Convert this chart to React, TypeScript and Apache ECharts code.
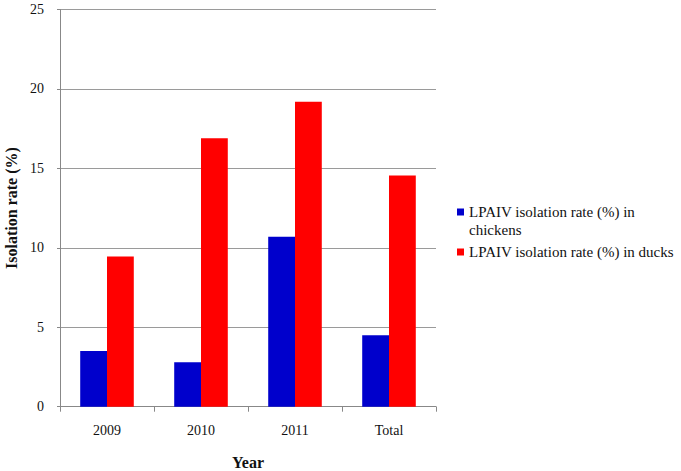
import React, { useEffect, useRef } from "react";
import * as echarts from "echarts";

const categories = ["2009", "2010", "2011", "Total"];
const chickens = [3.5, 2.8, 10.7, 4.5];
const ducks = [9.45, 16.9, 19.2, 14.55];
const yTicks = { min: 0, max: 25, interval: 5 };
const chickenName = "LPAIV isolation rate (%) in chickens";
const duckName = "LPAIV isolation rate (%) in ducks";

const FONT = "Liberation Serif";

export default function App() {
  const ref = useRef<HTMLDivElement>(null);
  useEffect(() => {
    if (!ref.current) return;
    const chart = echarts.init(ref.current, null, { renderer: "svg" });
    chart.setOption({
      animation: false,
      backgroundColor: "#ffffff",
      textStyle: { fontFamily: FONT },
      grid: {
        left: 60,
        right: 245,
        top: 9.5,
        bottom: 64.3,
        containLabel: false,
        outerBoundsMode: "none",
      },
      legend: {
        orient: "vertical",
        left: 457,
        top: 185,
        padding: 0,
        itemWidth: 7,
        itemHeight: 7,
        itemGap: 4,
        icon: "rect",
        textStyle: { fontFamily: FONT, fontSize: 15, color: "#111", lineHeight: 18 },
        formatter: (n: string) => (n === chickenName ? " \nLPAIV isolation rate (%) in\nchickens" : n),
        data: [{ name: chickenName }, { name: duckName }],
      },
      xAxis: {
        type: "category",
        data: categories,
        name: "Year",
        nameLocation: "middle",
        nameGap: 48,
        nameTextStyle: { fontFamily: FONT, fontSize: 16, fontWeight: "bold", color: "#111" },
        axisLine: { lineStyle: { color: "#888888", width: 1 } },
        axisTick: { show: true, length: 5, alignWithLabel: false, lineStyle: { color: "#888888" } },
        axisLabel: { fontFamily: FONT, fontSize: 14, color: "#111", margin: 17 },
      },
      yAxis: {
        type: "value",
        min: yTicks.min,
        max: yTicks.max,
        interval: yTicks.interval,
        name: "Isolation rate (%)",
        nameLocation: "middle",
        nameGap: 40,
        nameRotate: 90,
        nameTextStyle: { fontFamily: FONT, fontSize: 16, fontWeight: "bold", color: "#111" },
        axisLine: { show: true, lineStyle: { color: "#888888", width: 1 } },
        axisTick: { show: true, length: 3, lineStyle: { color: "#888888" } },
        axisLabel: { fontFamily: FONT, fontSize: 14, color: "#111", margin: 16 },
        splitLine: { show: true, lineStyle: { color: "#9a9a9a", width: 1 } },
      },
      series: [
        {
          name: chickenName,
          type: "bar",
          data: chickens,
          itemStyle: { color: "#0000cc" },
          barGap: "0%",
          barCategoryGap: "43%",
        },
        {
          name: duckName,
          type: "bar",
          data: ducks,
          itemStyle: { color: "#ff0000" },
          barGap: "0%",
          barCategoryGap: "43%",
        },
      ],
    });
    return () => chart.dispose();
  }, []);
  return (
    <div
      ref={ref}
      style={{ position: "fixed", left: 0, top: 0, width: 681, height: 471 }}
    />
  );
}
